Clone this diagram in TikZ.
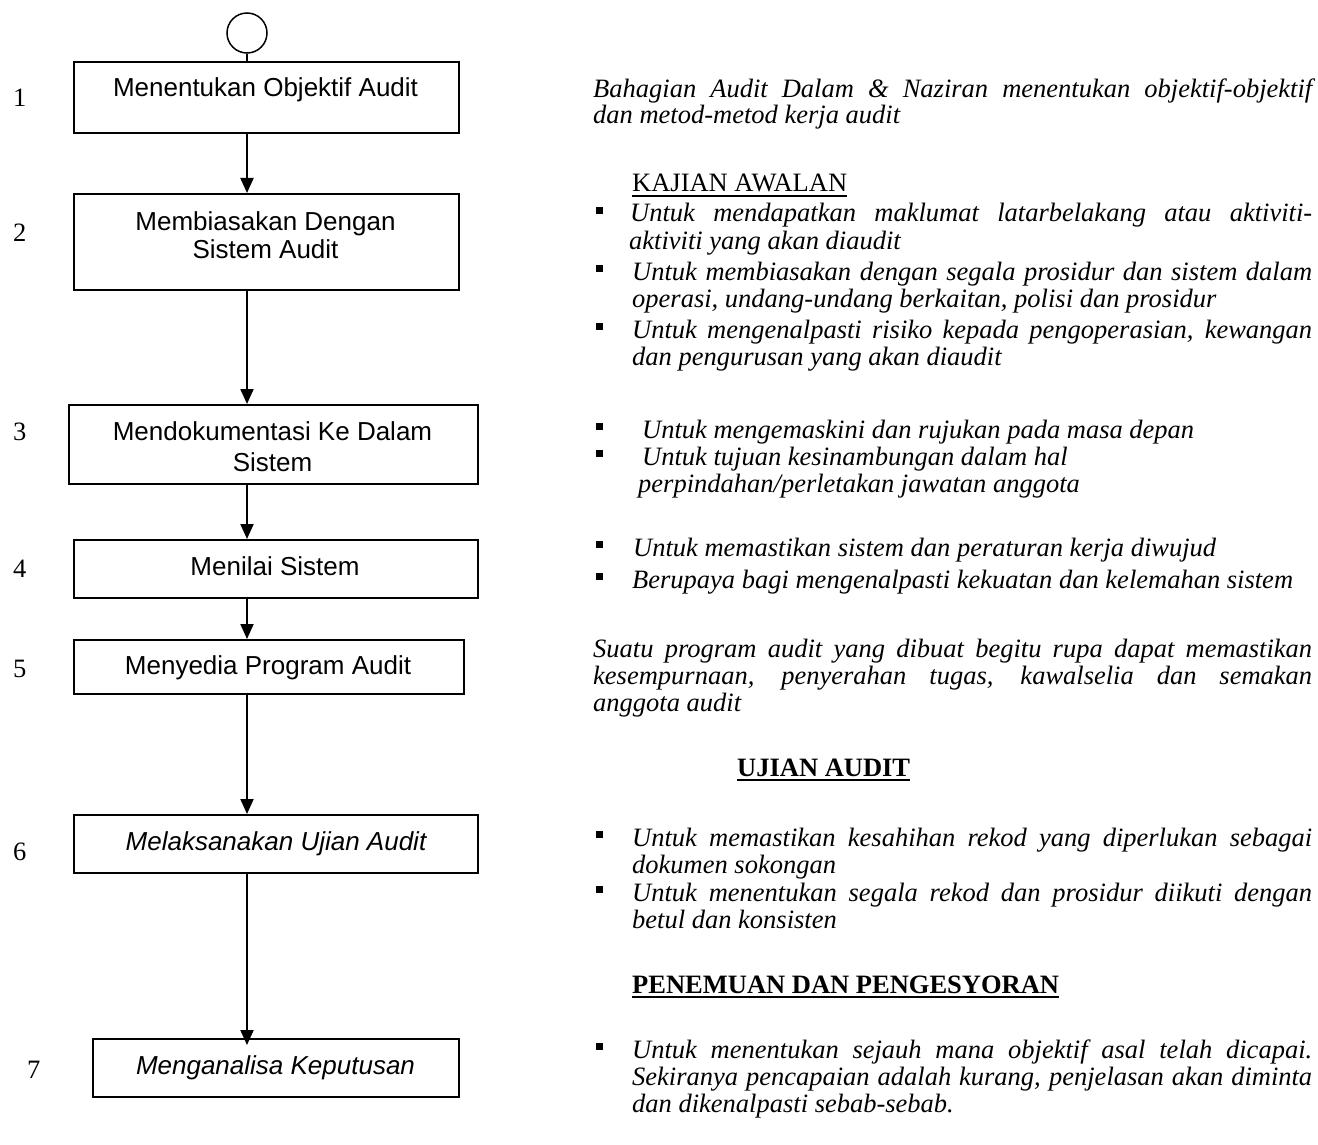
\documentclass[tikz,border=0pt]{standalone}
\usepackage{fontspec}
\setmainfont{Liberation Serif}
\setsansfont{Liberation Sans}
\usetikzlibrary{arrows.meta}
\newcommand{\jfill}[2]{\makebox[#1][s]{#2}}
\begin{document}
\begin{tikzpicture}[x=1pt,y=-1pt,
  box/.style={draw, line width=1.8pt, inner sep=0pt, anchor=north west},
  btxt/.style={anchor=base, inner sep=0pt, font=\sffamily\fontsize{26}{30}\selectfont},
  bitxt/.style={anchor=base, inner sep=0pt, font=\sffamily\itshape\fontsize{26}{30}\selectfont},
  num/.style={anchor=base west, inner sep=0pt, font=\rmfamily\fontsize{26.5}{30}\selectfont},
  rt/.style={anchor=base west, inner sep=0pt, font=\rmfamily\itshape\fontsize{26.5}{30}\selectfont},
  hd/.style={anchor=base west, inner sep=0pt, font=\rmfamily\fontsize{26.5}{30}\selectfont},
  hdb/.style={anchor=base west, inner sep=0pt, font=\rmfamily\bfseries\fontsize{26.5}{30}\selectfont},
  arr/.style={line width=2pt, -{Triangle[length=15pt,width=13pt]}},
  bul/.style={fill=black},
]
\useasboundingbox (0,0) rectangle (1318,1145);
\fill[white] (0,0) rectangle (1318,1145);

% start circle
\node[draw, circle, minimum size=40pt, inner sep=0pt, line width=1.5pt] (c0) at (247,33) {};

% boxes
\node[box, minimum width=385pt, minimum height=71pt] (b1) at (73,61) {};
\node[box, minimum width=385pt, minimum height=96pt] (b2) at (73,193) {};
\node[box, minimum width=409pt, minimum height=79pt] (b3) at (68,404) {};
\node[box, minimum width=404pt, minimum height=58pt] (b4) at (73,539) {};
\node[box, minimum width=390pt, minimum height=54pt] (b5) at (73,639) {};
\node[box, minimum width=404pt, minimum height=58pt] (b6) at (73,814) {};
\node[box, minimum width=366pt, minimum height=58pt] (b7) at (92,1038) {};

% box texts
\node[btxt] (t1) at (265.5,97) {Menentukan Objektif Audit};
\node[btxt] (t2a) at (265.5,230) {Membiasakan Dengan};
\node[btxt] (t2b) at (265.5,258) {Sistem Audit};
\node[btxt] (t3a) at (272.5,440) {Mendokumentasi Ke Dalam};
\node[btxt] (t3b) at (272.5,471) {Sistem};
\node[btxt] (t4) at (275,575) {Menilai Sistem};
\node[btxt] (t5) at (268,674) {Menyedia Program Audit};
\node[bitxt] (t6) at (276,850) {Melaksanakan Ujian Audit};
\node[bitxt] (t7) at (275.5,1074) {Menganalisa Keputusan};

% step numbers
\node[num] (n1) at (13,107) {1};
\node[num] (n2) at (13,241) {2};
\node[num] (n3) at (13,440) {3};
\node[num] (n4) at (13,577) {4};
\node[num] (n5) at (13,677) {5};
\node[num] (n6) at (13,860) {6};
\node[num] (n7) at (27,1078) {7};

% connectors
\draw[line width=1.5pt] (c0.south) -- (b1.north -| c0);
\draw[arr] (b1.south -| c0) -- (b2.north -| c0);
\draw[arr] (b2.south -| c0) -- (b3.north -| c0);
\draw[arr] (b3.south -| c0) -- (b4.north -| c0);
\draw[arr] (b4.south -| c0) -- (b5.north -| c0);
\draw[arr] (b5.south -| c0) -- (b6.north -| c0);
\draw[arr, shorten >=-7pt] (b6.south -| c0) -- (b7.north -| c0);

% right column
\node[rt] (r1) at (593,98) {\jfill{719pt}{Bahagian Audit Dalam \& Naziran menentukan objektif-objektif}};
\node[rt] (r2) at (593,124) {dan metod-metod kerja audit};

\node[hd] (h1) at (632,192) {KAJIAN AWALAN};
\draw[line width=1.4pt] ([yshift=-4pt]h1.base west) -- ([yshift=-4pt]h1.base east);

\fill[bul] (596,207) rectangle (603,214);
\node[rt] (r3) at (630,222) {\jfill{682pt}{Untuk mendapatkan maklumat latarbelakang atau aktiviti-}};
\node[rt] (r4) at (629,249) {aktiviti yang akan diaudit};
\fill[bul] (596,265) rectangle (603,272);
\node[rt] (r5) at (632,280) {\jfill{680pt}{Untuk membiasakan dengan segala prosidur dan sistem dalam}};
\node[rt] (r6) at (632,307) {operasi, undang-undang berkaitan, polisi dan prosidur};
\fill[bul] (596,323) rectangle (603,330);
\node[rt] (r7) at (632,338) {\jfill{680pt}{Untuk mengenalpasti risiko kepada pengoperasian, kewangan}};
\node[rt] (r8) at (632,365) {dan pengurusan yang akan diaudit};

\fill[bul] (596,423) rectangle (603,430);
\node[rt] (r9) at (642,438) {Untuk mengemaskini dan rujukan pada masa depan};
\fill[bul] (596,450) rectangle (603,457);
\node[rt] (r10) at (642,465) {Untuk tujuan kesinambungan dalam hal};
\node[rt] (r11) at (638,492) {perpindahan/perletakan jawatan anggota};

\fill[bul] (596,541) rectangle (603,548);
\node[rt] (r12) at (633,556) {Untuk memastikan sistem dan peraturan kerja diwujud};
\fill[bul] (596,573) rectangle (603,580);
\node[rt] (r13) at (632,588) {Berupaya bagi mengenalpasti kekuatan dan kelemahan sistem};

\node[rt] (r14) at (593,657) {\jfill{719pt}{Suatu program audit yang dibuat begitu rupa dapat memastikan}};
\node[rt] (r15) at (593,684) {\jfill{719pt}{kesempurnaan, penyerahan tugas, kawalselia dan semakan}};
\node[rt] (r16) at (593,711) {anggota audit};

\node[hdb] (h2) at (737,776) {UJIAN AUDIT};
\draw[line width=2.2pt] ([yshift=-4pt]h2.base west) -- ([yshift=-4pt]h2.base east);

\fill[bul] (596,831) rectangle (603,838);
\node[rt] (r17) at (632,846) {\jfill{680pt}{Untuk memastikan kesahihan rekod yang diperlukan sebagai}};
\node[rt] (r18) at (632,873) {dokumen sokongan};
\fill[bul] (596,886) rectangle (603,893);
\node[rt] (r19) at (632,901) {\jfill{680pt}{Untuk menentukan segala rekod dan prosidur diikuti dengan}};
\node[rt] (r20) at (632,928) {betul dan konsisten};

\node[hdb] (h3) at (632,993) {PENEMUAN DAN PENGESYORAN};
\draw[line width=2.2pt] ([yshift=-4pt]h3.base west) -- ([yshift=-4pt]h3.base east);

\fill[bul] (596,1043) rectangle (603,1050);
\node[rt] (r21) at (632,1058) {\jfill{680pt}{Untuk menentukan sejauh mana objektif asal telah dicapai.}};
\node[rt] (r22) at (632,1085) {\jfill{680pt}{Sekiranya pencapaian adalah kurang, penjelasan akan diminta}};
\node[rt] (r23) at (632,1112) {dan dikenalpasti sebab-sebab.};
\end{tikzpicture}
\end{document}
